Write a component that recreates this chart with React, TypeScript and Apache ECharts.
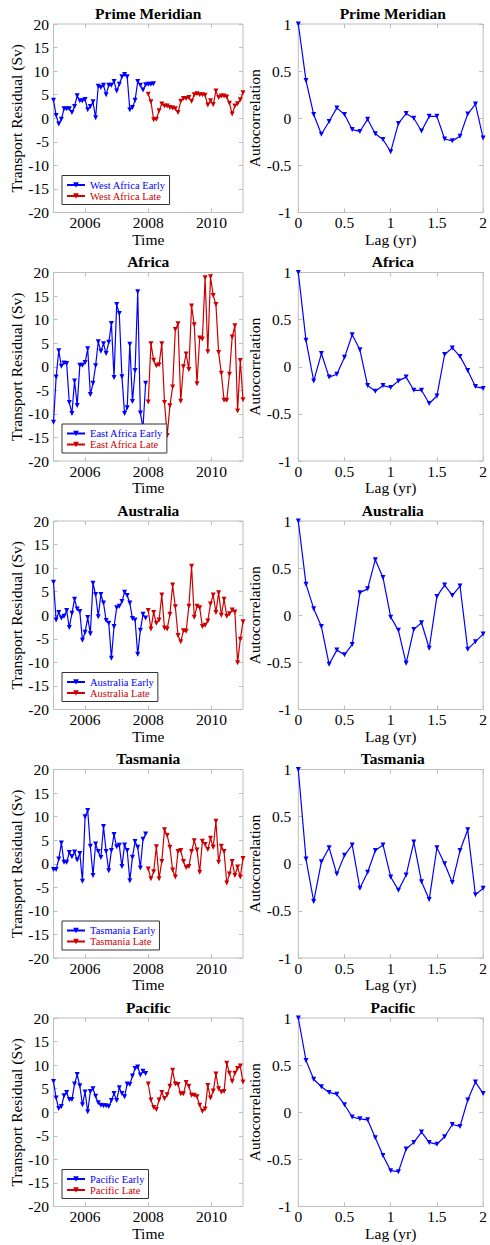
import React, { useEffect, useRef } from "react";
import * as echarts from "echarts";

// ---------- data ----------
const PANEL_TITLES = ["Prime Meridian", "Africa", "Australia", "Tasmania", "Pacific"];
const EARLY_NAMES = ["West Africa Early", "East Africa Early", "Australia Early", "Tasmania Early", "Pacific Early"];
const LATE_NAMES = ["West Africa Late", "East Africa Late", "Australia Late", "Tasmania Late", "Pacific Late"];

const EARLY_START = 2005;
const EARLY_STEP = 1 / 12;
const LATE_START = 2008;
const LATE_STEP = 3 / 35;
const TIME_TICKS = [2006, 2008, 2010];
const LAG_STEP = 1 / 12;

const pmEarly = [3.8, 0.6, -1.2, -0.2, 2.0, 2.0, 2.0, 1.2, 2.5, 4.8, 3.7, 3.7, 4.0, 1.8, 2.5, 3.5, 0.1, 6.8, 6.5, 7.0, 5.0, 7.0, 7.0, 7.8, 5.8, 7.2, 8.8, 9.3, 8.8, 1.8, 2.3, 3.8, 7.8, 7.0, 6.0, 7.1, 7.2, 7.2, 7.3];
const pmLate = [5.1, 3.5, -0.3, -0.2, 1.6, 3.0, 2.6, 2.6, 2.3, 2.2, 2.0, 1.2, 3.6, 4.2, 4.2, 4.4, 3.6, 5.0, 5.2, 5.0, 5.0, 4.9, 2.8, 3.7, 2.9, 5.8, 4.4, 4.7, 4.7, 4.5, 3.2, 0.9, 2.6, 3.1, 3.9, 5.4];
const afEarly = [-11.8, -2.2, 3.4, 0.1, 0.8, 0.7, -7.6, -9.9, -3.0, -8.2, 0.3, 0.3, 0.9, 3.8, -5.9, -3.5, 0.2, 5.3, 3.3, 4.9, 2.8, 5.2, 9.2, -2.3, 13.2, 11.3, -2.1, -9.9, -8.7, 4.8, -7.4, -0.8, 15.9, -9.8, -13.0, -3.5];
const afLate = [-7.5, 4.9, 1.4, 0.2, 0.4, 4.9, -7.6, -14.6, -8.3, -4.3, 7.9, 9.1, -7.3, 0.0, 2.7, -0.6, 12.9, 8.9, -3.6, 6.1, 5.9, 18.9, 3.2, 19.1, 15.1, 13.2, 3.0, -1.4, -7.1, -7.1, -1.6, 6.3, 8.7, -9.4, 1.3, -7.0];
const auEarly = [7.0, -1.0, 0.6, -0.6, -0.2, 1.0, -2.6, 0.4, 3.4, 1.3, 0.8, -5.3, -3.6, -0.5, -3.9, 6.8, 4.4, -0.3, 4.4, 2.6, -1.1, -1.7, -9.1, -2.4, 1.6, 1.9, 2.9, 4.9, 4.2, 2.6, -0.7, -1.0, -8.3, -3.2, 0.2, -0.6];
const auLate = [1.0, -2.9, 0.6, -1.7, -1.0, 4.3, -2.7, -2.9, 0.2, 6.4, 1.8, -4.3, -5.6, -3.3, -3.4, 1.9, 10.4, -0.4, 1.9, 1.6, -2.4, -2.1, -1.2, 2.4, 4.3, 0.6, 4.8, 0.0, 3.4, -0.2, 0.3, 1.1, 0.7, -10.1, -5.1, -1.4];
const taEarly = [-1.2, -1.2, 1.0, 4.4, 0.3, 0.3, 2.4, 1.5, 2.5, 0.8, 2.2, -3.7, 10.0, 11.3, 3.7, -2.5, 4.2, 2.6, 1.3, 7.9, 2.6, -1.5, 2.8, 6.2, 3.6, 3.9, -0.6, 4.0, 2.8, -3.6, 1.4, 4.7, 3.5, -0.9, 5.2, 6.3];
const taLate = [-1.1, -3.2, -1.7, 3.6, -3.2, 0.5, 7.2, 6.0, 3.5, -1.3, -2.8, 2.6, 2.8, 0.5, -0.8, -0.6, 2.6, 4.9, 2.9, -1.8, 4.8, 4.1, 3.0, 5.4, 3.5, 9.0, 0.3, 3.7, 2.6, -4.1, -2.2, 0.5, -2.5, -0.7, -2.8, 1.1];
const paEarly = [6.5, 3.0, 0.8, 1.2, 3.5, 4.2, 2.7, 2.7, 6.0, 8.0, 5.6, 1.6, 4.3, 0.1, 4.4, 5.0, 3.4, 2.0, 1.5, 1.4, 1.4, 1.2, 2.5, 4.0, 2.5, 5.2, 4.0, 3.3, 6.0, 5.9, 7.7, 9.3, 9.6, 7.9, 8.7, 8.2];
const paLate = [6.0, 2.6, 1.0, 0.6, 2.6, 4.2, 2.9, 3.7, 5.5, 8.9, 6.0, 5.9, 3.9, 3.9, 6.3, 5.5, 3.6, 3.6, 3.3, 1.5, 0.2, 0.7, 5.7, 3.0, 4.5, 8.1, 5.0, 4.3, 4.4, 10.4, 8.3, 6.5, 8.3, 9.3, 9.8, 6.4];

const acfPM = [1.0, 0.40, 0.04, -0.17, -0.035, 0.11, 0.04, -0.12, -0.14, -0.01, -0.165, -0.225, -0.355, -0.055, 0.05, 0.0, -0.135, 0.02, 0.02, -0.22, -0.24, -0.19, 0.045, 0.15, -0.21];
const acfAF = [1.0, 0.28, -0.15, 0.14, -0.11, -0.08, 0.10, 0.34, 0.18, -0.20, -0.26, -0.20, -0.22, -0.15, -0.11, -0.25, -0.25, -0.39, -0.31, 0.13, 0.20, 0.11, -0.04, -0.21, -0.23];
const acfAU = [1.0, 0.33, 0.07, -0.12, -0.52, -0.37, -0.42, -0.31, 0.24, 0.28, 0.59, 0.40, -0.02, -0.16, -0.51, -0.15, -0.08, -0.35, 0.20, 0.32, 0.21, 0.31, -0.36, -0.28, -0.20];
const acfTA = [1.0, 0.05, -0.40, 0.02, 0.17, -0.11, 0.09, 0.20, -0.26, -0.09, 0.14, 0.20, -0.14, -0.28, -0.12, 0.23, -0.19, -0.38, 0.17, 0.0, -0.20, 0.14, 0.36, -0.33, -0.26];
const acfPA = [1.0, 0.55, 0.35, 0.27, 0.21, 0.19, 0.08, -0.05, -0.07, -0.08, -0.27, -0.46, -0.62, -0.63, -0.39, -0.32, -0.21, -0.32, -0.34, -0.26, -0.13, -0.15, 0.13, 0.32, 0.20];

const EARLY = [pmEarly, afEarly, auEarly, taEarly, paEarly];
const LATE = [pmLate, afLate, auLate, taLate, paLate];
const ACF = [acfPM, acfAF, acfAU, acfTA, acfPA];

// ---------- style ----------
const FONT = "Liberation Serif";
const BLUE = "#0000ff";
const RED = "#cc0000";
const GRAY = "#bdbdbd";
const FS = 15.5;

const LEFT_G = { left: 53.5, width: 189.5 };
const RIGHT_G = { left: 298.3, width: 189 };
const TOP0 = 24;
const PITCH = 248.5;
const GH = 188.5;

const plain = (v: number) => String(v);

function buildOption() {
  const grid: any[] = [];
  const xAxis: any[] = [];
  const yAxis: any[] = [];
  const series: any[] = [];
  const legend: any[] = [];
  const graphic: any[] = [];
  const noLine = { show: false, onZero: false };

  for (let k = 0; k < 5; k++) {
    const top = TOP0 + PITCH * k;
    for (let s = 0; s < 2; s++) {
      const g = k * 2 + s;
      const G = s === 0 ? LEFT_G : RIGHT_G;
      grid.push({ left: G.left, top, width: G.width, height: GH, show: true, borderColor: GRAY, borderWidth: 1, containLabel: false });
      const tick = { show: true, inside: true, length: 4, lineStyle: { color: GRAY, width: 1 } };
      const labelStyle = { color: "#000", fontFamily: FONT, fontSize: FS, formatter: plain };
      const nameStyle = { color: "#000", fontFamily: FONT, fontSize: FS };
      if (s === 0) {
        xAxis.push({
          gridIndex: g, type: "value", position: "bottom", min: 2005, max: 2011,
          axisLine: noLine, splitLine: { show: false },
          axisTick: { ...tick, customValues: TIME_TICKS },
          axisLabel: { ...labelStyle, margin: 2, customValues: TIME_TICKS },
          name: "Time", nameLocation: "middle", nameGap: 15, nameTextStyle: nameStyle,
        });
        xAxis.push({
          gridIndex: g, type: "value", position: "top", min: 2005, max: 2011,
          axisLine: noLine, splitLine: { show: false },
          axisTick: { ...tick, customValues: TIME_TICKS },
          axisLabel: { show: false, customValues: TIME_TICKS },
        });
        yAxis.push({
          gridIndex: g, type: "value", position: "left", min: -20, max: 20, interval: 5,
          axisLine: noLine, splitLine: { show: false }, axisTick: tick,
          axisLabel: { ...labelStyle, margin: 4.5 },
          name: "Transport Residual (Sv)", nameLocation: "middle", nameGap: 25, nameTextStyle: nameStyle,
        });
        yAxis.push({
          gridIndex: g, type: "value", position: "right", min: -20, max: 20, interval: 5,
          axisLine: noLine, splitLine: { show: false }, axisTick: tick, axisLabel: { show: false },
        });
        const common = { type: "line", xAxisIndex: g * 2, yAxisIndex: g * 2, symbol: "triangle", symbolRotate: 180, symbolSize: 5, animation: false };
        series.push({
          ...common, name: EARLY_NAMES[k],
          data: EARLY[k].map((v, i) => [EARLY_START + i * EARLY_STEP, v]),
          lineStyle: { color: BLUE, width: 1.2 }, itemStyle: { color: BLUE },
        });
        series.push({
          ...common, name: LATE_NAMES[k],
          data: LATE[k].map((v, i) => [LATE_START + i * LATE_STEP, v]),
          lineStyle: { color: RED, width: 1.2 }, itemStyle: { color: RED },
        });
        legend.push({
          orient: "vertical", left: 62, top: top + GH - 37,
          data: [
            { name: EARLY_NAMES[k], textStyle: { color: BLUE } },
            { name: LATE_NAMES[k], textStyle: { color: RED } },
          ],
          backgroundColor: "#fff", borderColor: "#333", borderWidth: 1,
          padding: [4, 4, 3, 4], itemGap: 0, itemWidth: 18, itemHeight: 7,
          selectedMode: false,
          textStyle: { fontFamily: FONT, fontSize: 10.5, lineHeight: 10.5 },
        });
      } else {
        xAxis.push({
          gridIndex: g, type: "value", position: "bottom", min: 0, max: 2, interval: 0.5,
          axisLine: noLine, splitLine: { show: false }, axisTick: tick,
          axisLabel: { ...labelStyle, margin: 2 },
          name: "Lag (yr)", nameLocation: "middle", nameGap: 15, nameTextStyle: nameStyle,
        });
        xAxis.push({
          gridIndex: g, type: "value", position: "top", min: 0, max: 2, interval: 0.5,
          axisLine: noLine, splitLine: { show: false }, axisTick: tick, axisLabel: { show: false },
        });
        yAxis.push({
          gridIndex: g, type: "value", position: "left", min: -1, max: 1, interval: 0.5,
          axisLine: noLine, splitLine: { show: false }, axisTick: tick,
          axisLabel: { ...labelStyle, margin: 7 },
          name: "Autocorrelation", nameLocation: "middle", nameGap: 33, nameTextStyle: nameStyle,
        });
        yAxis.push({
          gridIndex: g, type: "value", position: "right", min: -1, max: 1, interval: 0.5,
          axisLine: noLine, splitLine: { show: false }, axisTick: tick, axisLabel: { show: false },
        });
        series.push({
          type: "line", name: PANEL_TITLES[k] + " autocorrelation", xAxisIndex: g * 2, yAxisIndex: g * 2,
          symbol: "triangle", symbolRotate: 180, symbolSize: 5, animation: false,
          data: ACF[k].map((v, i) => [i * LAG_STEP, v]),
          lineStyle: { color: BLUE, width: 1.2 }, itemStyle: { color: BLUE },
        });
      }
      graphic.push({
        type: "text", x: G.left + G.width / 2, y: top - 11,
        style: { text: PANEL_TITLES[k], textAlign: "center", textVerticalAlign: "middle", fontFamily: FONT, fontSize: FS, fontWeight: "bold", fill: "#000" },
      });
    }
  }
  return { animation: false, backgroundColor: "#fff", grid, xAxis, yAxis, series, legend, graphic };
}

export default function App() {
  const ref = useRef<HTMLDivElement>(null);
  useEffect(() => {
    if (!ref.current) return;
    const chart = echarts.init(ref.current, null, { renderer: "svg" });
    chart.setOption(buildOption() as any);
    return () => chart.dispose();
  }, []);
  return <div ref={ref} style={{ position: "fixed", left: 0, top: 0, width: 490, height: 1245, background: "#fff" }} />;
}
